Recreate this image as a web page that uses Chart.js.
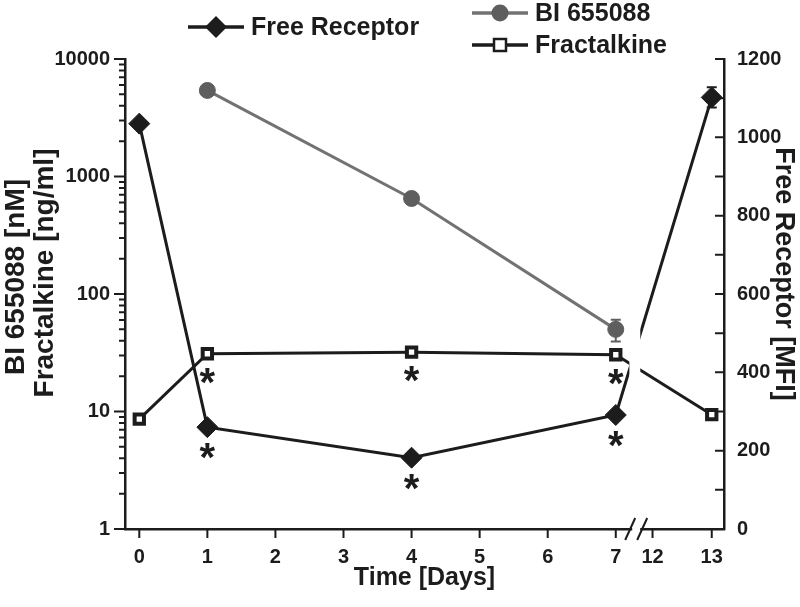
<!DOCTYPE html>
<html><head><meta charset="utf-8">
<script src="https://cdn.jsdelivr.net/npm/chart.js@4"></script>
<style>html,body{margin:0;padding:0;background:#fff}#wrap{width:800px;height:607px}</style>
</head><body><div id="wrap"><canvas id="c" width="800" height="607"></canvas></div>
<script>
// ---- data ----
const dayTicks = [0, 1, 2, 3, 4, 5, 6, 7, 12, 13];
const days = [0, 1, 4, 7, 13];
const freeReceptor = [1035, 260, 182, 291, 1102];
const freeReceptorErr = [0, 0, 0, 0, 26];
const biDays = [1, 4, 7];
const bi655088 = [5400, 650, 50];
const biErr = [0, 0, 10.5];
const fractalkine = [8.6, 31, 32, 30.4, 9.4];
const freeSig = [false, true, true, true, false];
const fracSig = [false, true, true, true, false];
const leftTicks = [1, 10, 100, 1000, 10000];
const rightTicks = [0, 200, 400, 600, 800, 1000, 1200];

// broken time axis: days 0-7 continuous, then a short gap to 12-13
function dayToPos(d) { return d <= 7 ? d : 7.54 + (d - 12) * 0.87; }

const INK = '#1c1c1c';
const GREY = '#727272';
const GREY_DOT = '#5e5e5e';
const FONT = 'Liberation Sans, Arial, sans-serif';

const pts = (xs, ys) => xs.map((d, i) => ({ x: dayToPos(d), y: ys[i] }));

const tickPlugin = {
  id: 'ticksAndDecor',
  afterDatasetsDraw(chart) {
    const { ctx, chartArea: a, scales } = chart;
    const xs = scales.x;
    // white break band across the data lines
    const bx1 = xs.getPixelForValue(7.2), bx2 = xs.getPixelForValue(7.36);
    ctx.save();
    ctx.fillStyle = '#fff';
    ctx.fillRect(bx1, a.top + 2, bx2 - bx1, a.bottom - a.top - 4);
    ctx.restore();

    // error bars
    ctx.save();
    ctx.lineWidth = 2;
    const drawErr = (xv, yScale, v, e, color) => {
      if (!e) return;
      const x = xs.getPixelForValue(xv);
      const y1 = yScale.getPixelForValue(v + e), y2 = yScale.getPixelForValue(v - e);
      ctx.strokeStyle = color;
      ctx.beginPath();
      ctx.moveTo(x, y1); ctx.lineTo(x, y2);
      ctx.moveTo(x - 5, y1); ctx.lineTo(x + 5, y1);
      ctx.moveTo(x - 5, y2); ctx.lineTo(x + 5, y2);
      ctx.stroke();
    };
    biDays.forEach((d, i) => drawErr(dayToPos(d), scales.y, bi655088[i], biErr[i], GREY_DOT));
    days.forEach((d, i) => drawErr(dayToPos(d), scales.y2, freeReceptor[i], freeReceptorErr[i], INK));
    ctx.restore();

    // asterisks (significance)
    ctx.save();
    ctx.fillStyle = INK;
    ctx.font = 'bold 40px ' + FONT;
    ctx.textAlign = 'center';
    ctx.textBaseline = 'alphabetic';
    days.forEach((d, i) => {
      const x = xs.getPixelForValue(dayToPos(d));
      if (freeSig[i]) ctx.fillText('*', x, scales.y2.getPixelForValue(freeReceptor[i]) + 21 + 23);
      if (fracSig[i]) ctx.fillText('*', x, scales.y.getPixelForValue(fractalkine[i]) + 19 + 23);
    });
    ctx.restore();
  },
  afterDraw(chart) {
    const { ctx, chartArea: a, scales } = chart;
    ctx.save();
    ctx.strokeStyle = INK;
    ctx.lineWidth = 2;
    ctx.beginPath();
    // left log ticks (major + minor)
    leftTicks.forEach((dec, k) => {
      const yy = scales.y.getPixelForValue(dec);
      ctx.moveTo(a.left - 11, yy); ctx.lineTo(a.left, yy);
      if (k < leftTicks.length - 1) {
        for (let m = 2; m <= 9; m++) {
          const ym = scales.y.getPixelForValue(dec * m);
          ctx.moveTo(a.left - 6, ym); ctx.lineTo(a.left, ym);
        }
      }
    });
    // right ticks (inward), every 100
    for (let v = 0; v <= 1200; v += 100) {
      const yy = scales.y2.getPixelForValue(v);
      ctx.moveTo(a.right - 9, yy); ctx.lineTo(a.right, yy);
    }
    // x ticks (outward)
    dayTicks.forEach(d => {
      const xx = scales.x.getPixelForValue(dayToPos(d));
      ctx.moveTo(xx, a.bottom); ctx.lineTo(xx, a.bottom + 9);
    });
    ctx.stroke();

    // axis break marks
    const cx = scales.x.getPixelForValue(7.3);
    ctx.fillStyle = '#fff';
    ctx.fillRect(cx - 4, a.bottom - 3, 8, 6);
    ctx.lineWidth = 2;
    ctx.beginPath();
    ctx.moveTo(cx - 11, a.bottom + 11); ctx.lineTo(cx - 1, a.bottom - 11);
    ctx.moveTo(cx + 1, a.bottom + 11); ctx.lineTo(cx + 11, a.bottom - 11);
    ctx.stroke();
    ctx.restore();

    // axis titles
    ctx.save();
    ctx.fillStyle = INK;
    ctx.textAlign = 'center';
    ctx.textBaseline = 'middle';
    ctx.font = 'bold 25px ' + FONT;
    ctx.fillText('Time [Days]', (a.left + a.right) / 2, 578);
    ctx.font = 'bold 28px ' + FONT;
    ctx.save();
    ctx.translate(16, 277); ctx.rotate(-Math.PI / 2);
    ctx.fillText('BI 655088 [nM]', 0, 0);
    ctx.restore();
    ctx.save();
    ctx.translate(45, 273); ctx.rotate(-Math.PI / 2);
    ctx.fillText('Fractalkine [ng/ml]', 0, 0);
    ctx.restore();
    ctx.font = 'bold 27px ' + FONT;
    ctx.save();
    ctx.translate(783, 274); ctx.rotate(Math.PI / 2);
    ctx.fillText('Free Receptor [MFI]', 0, 0);
    ctx.restore();
    ctx.restore();

    // legend
    ctx.save();
    ctx.font = 'bold 25px ' + FONT;
    ctx.textAlign = 'left';
    ctx.textBaseline = 'middle';
    const item = (x0, y, label, color, dot, marker) => {
      ctx.strokeStyle = color; ctx.lineWidth = 3.5;
      ctx.beginPath(); ctx.moveTo(x0, y); ctx.lineTo(x0 + 56, y); ctx.stroke();
      const mx = x0 + 28;
      ctx.fillStyle = dot;
      if (marker === 'diamond') {
        ctx.beginPath();
        ctx.moveTo(mx - 11, y); ctx.lineTo(mx, y - 11); ctx.lineTo(mx + 11, y); ctx.lineTo(mx, y + 11);
        ctx.closePath(); ctx.fill();
      } else if (marker === 'circle') {
        ctx.beginPath(); ctx.arc(mx, y, 8.5, 0, Math.PI * 2); ctx.fill();
      } else {
        ctx.fillStyle = '#fff';
        ctx.fillRect(mx - 6, y - 6, 12, 12);
        ctx.lineWidth = 2.5; ctx.strokeStyle = dot; ctx.strokeRect(mx - 6, y - 6, 12, 12);
      }
      ctx.fillStyle = INK;
      ctx.fillText(label, x0 + 63, y + 1);
    };
    item(188, 27, 'Free Receptor', INK, INK, 'diamond');
    item(472, 13, 'BI 655088', GREY, GREY_DOT, 'circle');
    item(472, 45, 'Fractalkine', INK, INK, 'square');
    ctx.restore();
  }
};

const tickFont = { family: FONT, size: 20, weight: 'bold' };

new Chart(document.getElementById('c'), {
  type: 'line',
  data: {
    datasets: [
      {
        label: 'Free Receptor', yAxisID: 'y2', order: 1,
        data: pts(days, freeReceptor),
        borderColor: INK, backgroundColor: INK, borderWidth: 3,
        pointStyle: 'rectRot', pointRadius: 10.5, pointBorderWidth: 1,
        pointBackgroundColor: INK, pointBorderColor: INK, clip: false
      },
      {
        label: 'Fractalkine', yAxisID: 'y', order: 2,
        data: pts(days, fractalkine),
        borderColor: INK, backgroundColor: '#fff', borderWidth: 3,
        pointStyle: 'rect', pointRadius: 6.6, pointBorderWidth: 4,
        pointBackgroundColor: '#fff', pointBorderColor: INK, clip: false
      },
      {
        label: 'BI 655088', yAxisID: 'y', order: 3,
        data: pts(biDays, bi655088),
        borderColor: GREY, backgroundColor: GREY_DOT, borderWidth: 3,
        pointStyle: 'circle', pointRadius: 8, pointBorderWidth: 1,
        pointBackgroundColor: GREY_DOT, pointBorderColor: GREY_DOT, clip: false
      }
    ]
  },
  options: {
    responsive: false, animation: false, devicePixelRatio: 1,
    layout: { padding: { top: 59, left: 0, right: 0, bottom: 0 } },
    plugins: { legend: { display: false }, tooltip: { enabled: false } },
    elements: { line: { tension: 0 } },
    scales: {
      x: {
        type: 'linear', position: 'bottom', min: -0.21, max: 8.59,
        grid: { display: false, drawTicks: false },
        border: { display: true, color: INK, width: 2.5 },
        afterBuildTicks: s => { s.ticks = dayTicks.map(d => ({ value: dayToPos(d) })); },
        afterFit: s => { s.height = 78; },
        ticks: {
          autoSkip: false, maxRotation: 0, padding: 16, color: INK, font: tickFont,
          callback: (v, i) => String(dayTicks[i])
        }
      },
      y: {
        type: 'logarithmic', position: 'left', min: 1, max: 10000,
        grid: { display: false, drawTicks: false },
        border: { display: true, color: INK, width: 2.5 },
        afterBuildTicks: s => { s.ticks = leftTicks.map(v => ({ value: v, major: true })); },
        afterFit: s => { s.width = 125; },
        ticks: { autoSkip: false, padding: 15, color: INK, font: tickFont, callback: v => String(v) }
      },
      y2: {
        type: 'linear', position: 'right', min: 0, max: 1200,
        grid: { display: false, drawTicks: false },
        border: { display: true, color: INK, width: 2.5 },
        afterBuildTicks: s => { s.ticks = rightTicks.map(v => ({ value: v })); },
        afterFit: s => { s.width = 76; },
        ticks: { autoSkip: false, padding: 13, color: INK, font: tickFont, callback: v => String(v) }
      }
    }
  },
  plugins: [tickPlugin]
});
</script>
</body></html>
